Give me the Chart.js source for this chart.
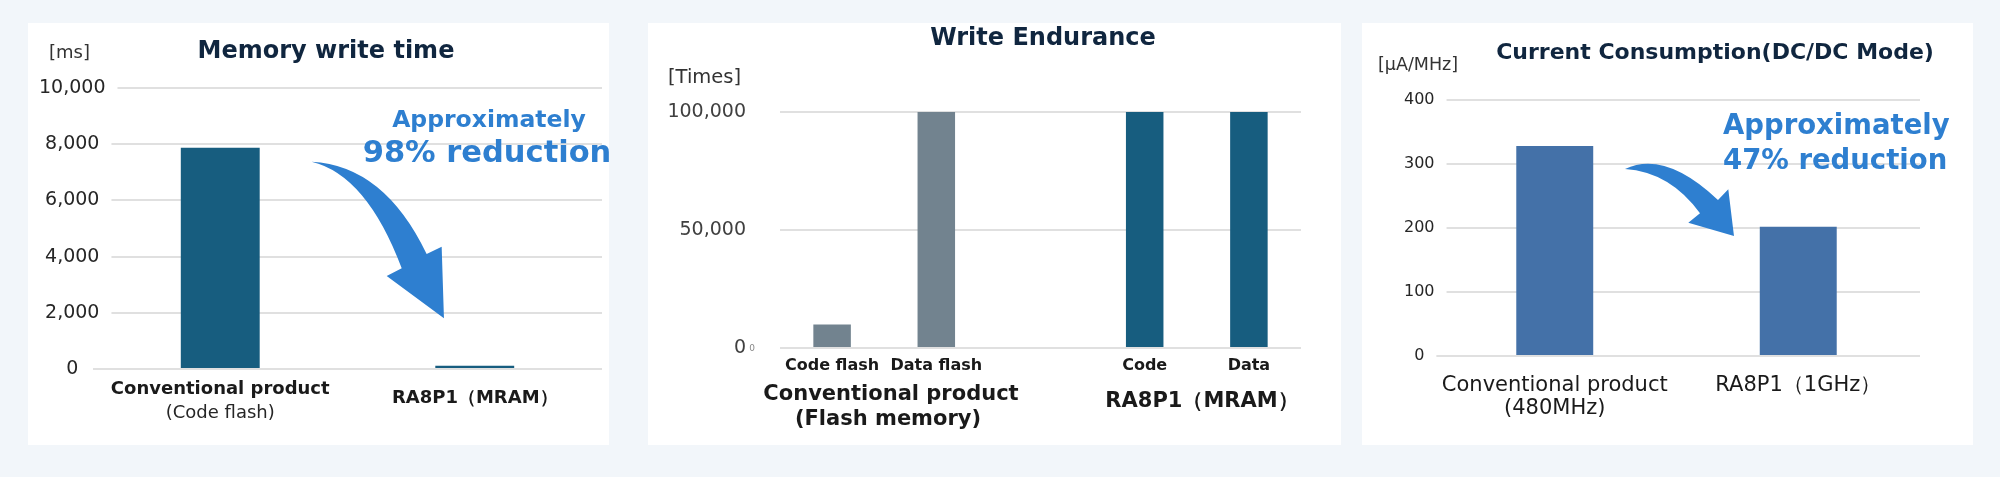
<!DOCTYPE html>
<html>
<head>
<meta charset="utf-8">
<script src="https://cdn.jsdelivr.net/npm/chart.js@4.4.1/dist/chart.umd.min.js"></script>
<style>
    html, body { margin: 0; padding: 0; }
    body {
        width: 2000px; height: 477px; overflow: hidden; position: relative;
        background: #f2f6fa; font-family: "DejaVu Sans", sans-serif;
    }
    .panel { position: absolute; top: 23px; height: 422px; background: #fff; }
    .panel canvas { position: absolute; left: 0; top: 0; }
    .txt { position: absolute; white-space: nowrap; line-height: 1; transform: translate(-50%, -50%); }
    .txt.left { transform: translate(0, -50%); }
    .title { font-weight: bold; color: #10263f; }
    .unit { color: #333; }
    .callout { font-weight: bold; color: #2e7fd0; }
    .group { font-weight: bold; color: #1a1a1a; font-size: 21px; }
</style>
</head>
<body>

<div class="panel" style="left:28px; width:581px">
    <canvas id="memChart" width="581" height="422"></canvas>
    <div class="txt title" style="left:298px; top:27px; font-size:24px">Memory write time</div>
    <div class="txt left unit" style="left:21px; top:29px; font-size:18px">[ms]</div>
    <div class="txt callout" style="left:461px; top:97px; font-size:23.5px">Approximately</div>
    <div class="txt callout" style="left:459px; top:129px; font-size:30.5px">98% reduction</div>
</div>

<div class="panel" style="left:648px; width:693px">
    <canvas id="enduranceChart" width="693" height="422"></canvas>
    <div class="txt title" style="left:395px; top:14px; font-size:24px">Write Endurance</div>
    <div class="txt left unit" style="left:20px; top:54px; font-size:19.5px">[Times]</div>
    <div class="txt" style="left:104px; top:325px; font-size:9px; color:#888">0</div>
    <div class="txt group" style="left:243px; top:370px">Conventional product</div>
    <div class="txt group" style="left:240px; top:395px">(Flash memory)</div>
    <div class="txt group" style="left:554px; top:377px">RA8P1（MRAM）</div>
</div>

<div class="panel" style="left:1362px; width:611px">
    <canvas id="currentChart" width="611" height="422"></canvas>
    <div class="txt title" style="left:353px; top:29px; font-size:22px">Current Consumption(DC/DC Mode)</div>
    <div class="txt left unit" style="left:16px; top:42px; font-size:17.5px">[μA/MHz]</div>
    <div class="txt left callout" style="left:361px; top:102px; font-size:27.5px">Approximately</div>
    <div class="txt left callout" style="left:361px; top:137px; font-size:27.5px">47% reduction</div>
</div>

<script>
// memory write time [ms]
const memLabels = ["Conventional product", "RA8P1（MRAM）"]
const memNotes = ["(Code flash)", ""]
const memTime = [7870, 120]
const memAxis = { min: 0, max: 10000, step: 2000 }

// write endurance [times]
const enduranceLabels = ["Code flash", "Data flash", "", "Code", "Data"]
const enduranceTimes = [10000, 100000, null, 100000, 100000]
const enduranceAxis = { min: 0, max: 100000, step: 50000 }

// current consumption [uA/MHz]
const currentLabels = [["Conventional product", "(480MHz)"], "RA8P1（1GHz）"]
const currentValues = [328, 202]
const currentAxis = { min: 0, max: 400, step: 100 }

const FONT = "'DejaVu Sans', sans-serif"
const GRID = "#e0e0e0"
const TEAL = "#175d7f"
const GREY = "#72838f"
const STEEL = "#4471a8"
const ARROW = "#2e7fd0"

// block arrow, points are [category index, value] so it follows the scales
const curvedArrow = {
    id: "curvedArrow",
    afterDatasetsDraw(chart, args, opts) {
        const { ctx, scales: { x, y } } = chart
        const [tail, cOut, bOut, headR, tip, headL, bIn, cIn] = opts.shape.map(([i, v]) => [
            x.getPixelForValue(i),
            y.getPixelForValue(v),
        ])
        ctx.save()
        ctx.fillStyle = opts.color
        ctx.beginPath()
        ctx.moveTo(...tail)
        ctx.quadraticCurveTo(...cOut, ...bOut)
        ctx.lineTo(...headR)
        ctx.lineTo(...tip)
        ctx.lineTo(...headL)
        ctx.lineTo(...bIn)
        ctx.quadraticCurveTo(...cIn, ...tail)
        ctx.fill()
        ctx.restore()
    },
}

// second, lighter line under a category label
const subLabels = {
    id: "subLabels",
    afterDraw(chart, args, opts) {
        const { ctx, scales: { x } } = chart
        ctx.save()
        ctx.font = opts.font
        ctx.fillStyle = opts.color
        ctx.textAlign = "center"
        ctx.textBaseline = "middle"
        opts.labels.forEach((text, i) => {
            if (text) ctx.fillText(text, x.getPixelForTick(i), x.top + opts.offset)
        })
        ctx.restore()
    },
}

function baseOptions(pad, yWidth, xHeight) {
    return {
        responsive: false,
        animation: false,
        events: [],
        layout: { padding: pad },
        plugins: { legend: { display: false }, tooltip: { enabled: false } },
        scales: {
            x: {
                grid: { display: false, drawTicks: false },
                border: { display: false },
                afterFit: s => { s.height = xHeight },
            },
            y: {
                grid: { color: GRID, lineWidth: 2, drawTicks: false },
                border: { display: false },
                afterFit: s => { s.width = yWidth },
            },
        },
    }
}

function yAxis(axis, extra) {
    return { min: axis.min, max: axis.max, ticks: { stepSize: axis.step, ...extra } }
}

// labels centred in front of the grid, white backdrop keeps the line off them
const centredTicks = {
    mirror: true,
    crossAlign: "center",
    color: "#262626",
    showLabelBackdrop: true,
    backdropColor: "#fff",
    backdropPadding: { top: 0, bottom: 0, left: 0, right: 12 },
}

// chart 1
const memOpts = baseOptions({ top: 65, right: 7, bottom: 0, left: 0 }, 65, 76)
Object.assign(memOpts.scales.y, yAxis(memAxis, {
    ...centredTicks,
    padding: -54,
    font: { family: FONT, size: 19 },
}))
memOpts.scales.x.ticks = {
    padding: 10,
    color: "#1a1a1a",
    maxRotation: 0,
    font: c => ({ family: FONT, size: 18, weight: "bold", lineHeight: c.index === 1 ? 2.1 : 1.2 }),
}
memOpts.plugins.curvedArrow = {
    color: ARROW,
    shape: [
        [0.359, 7377], [0.644, 7242], [0.811, 4093], [0.87, 4352],
        [0.879, 1804], [0.654, 3310], [0.713, 3584], [0.575, 6904],
    ],
}
memOpts.plugins.subLabels = {
    labels: memNotes,
    offset: 44,
    color: "#262626",
    font: `18px ${FONT}`,
}

new Chart(document.getElementById("memChart"), {
    type: "bar",
    data: {
        labels: memLabels,
        datasets: [{ data: memTime, backgroundColor: TEAL, barPercentage: 0.31, categoryPercentage: 1 }],
    },
    options: memOpts,
    plugins: [curvedArrow, subLabels],
})

// chart 2
const endOpts = baseOptions({ top: 89, right: 40, bottom: 0, left: 0 }, 132, 97)
Object.assign(endOpts.scales.y, yAxis(enduranceAxis, {
    padding: 34,
    color: "#404040",
    font: { family: FONT, size: 19 },
}))
endOpts.scales.x.ticks = {
    padding: 8,
    color: "#1a1a1a",
    autoSkip: false,
    maxRotation: 0,
    font: { family: FONT, size: 16, weight: "bold" },
}

new Chart(document.getElementById("enduranceChart"), {
    type: "bar",
    data: {
        labels: enduranceLabels,
        datasets: [{
            data: enduranceTimes,
            backgroundColor: [GREY, GREY, GREY, TEAL, TEAL],
            barPercentage: 0.36,
            categoryPercentage: 1,
        }],
    },
    options: endOpts,
})

// chart 3
const curOpts = baseOptions({ top: 77, right: 53, bottom: 0, left: 0 }, 71, 89)
Object.assign(curOpts.scales.y, yAxis(currentAxis, {
    ...centredTicks,
    padding: -29,
    font: { family: FONT, size: 16 },
}))
curOpts.scales.x.ticks = {
    padding: 18,
    color: "#1a1a1a",
    maxRotation: 0,
    font: { family: FONT, size: 21, lineHeight: 1.1 },
}
curOpts.plugins.curvedArrow = {
    color: ARROW,
    shape: [
        [0.2885, 292.2], [0.4528, 321.9], [0.6704, 243.8], [0.7127, 260.5],
        [0.7361, 187.5], [0.5485, 208.3], [0.5965, 223], [0.4733, 287.5],
    ],
}

new Chart(document.getElementById("currentChart"), {
    type: "bar",
    data: {
        labels: currentLabels,
        datasets: [{ data: currentValues, backgroundColor: STEEL, barPercentage: 0.316, categoryPercentage: 1 }],
    },
    options: curOpts,
    plugins: [curvedArrow],
})
</script>
</body>
</html>
